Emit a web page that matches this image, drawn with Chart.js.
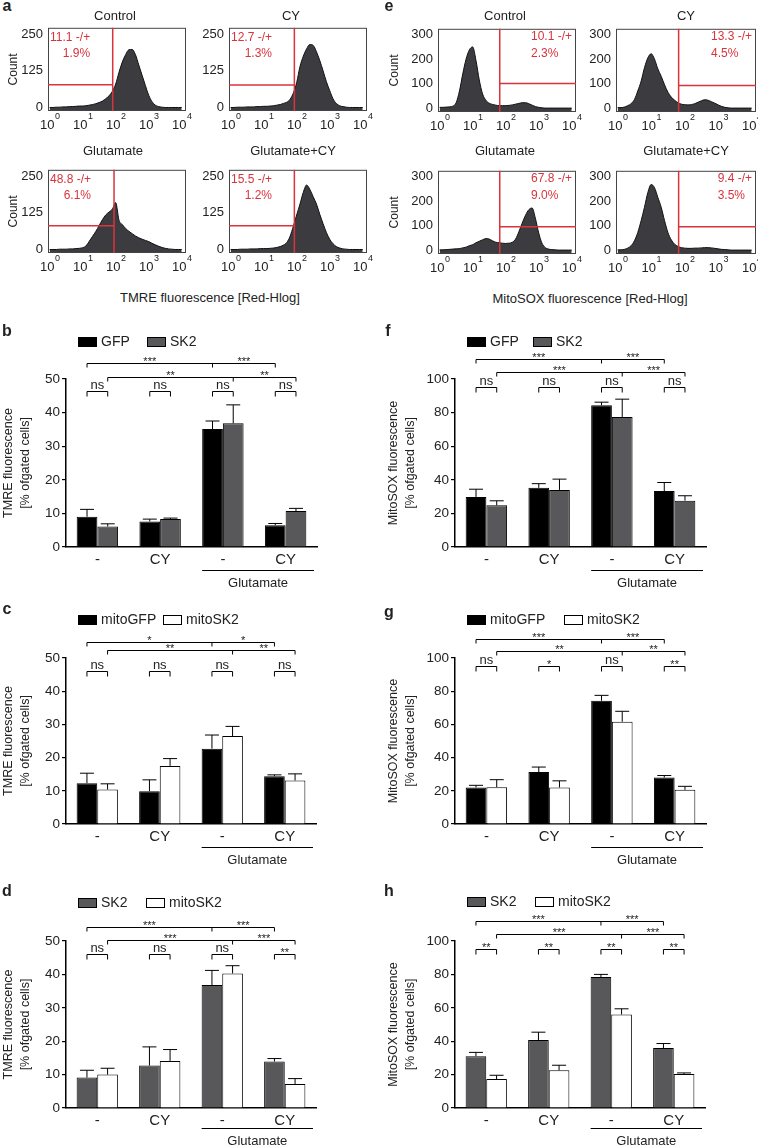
<!DOCTYPE html>
<html>
<head>
<meta charset="utf-8">
<script src="https://cdn.jsdelivr.net/npm/chart.js@4.4.1/dist/chart.umd.min.js"></script>
<style>
  body { margin:0; background:#fff; width:758px; height:1147px; position:relative; overflow:hidden;
         font-family:"Liberation Sans", Arial, sans-serif; color:#222; }
  canvas { position:absolute; }
  .t { position:absolute; transform:translate(-50%,-50%); white-space:nowrap; line-height:1; }
</style>
</head>
<body>
<script>
const FONT = '"Liberation Sans", Arial, sans-serif';
const RED = '#d9343c';

// ---------- flow cytometry histograms (log10 fluorescence bins) ----------
const logBins = [0,0.1,0.2,0.3,0.4,0.5,0.6,0.7,0.8,0.9,1.0,1.1,1.2,1.3,1.4,1.5,1.6,1.7,1.8,1.9,
                 2.0,2.1,2.2,2.3,2.4,2.5,2.6,2.7,2.8,2.9,3.0,3.1,3.2,3.3,3.4,3.5,3.6,3.7,3.8,3.9,4.0];
const xTickExps = [0, 1, 2, 3, 4];

// panel a: TMRE
const histA1 = [0,0,1,1,2,2,3,3,4,5, 5,6,8,10,13,17,22,30,40,55, 80,120,155,180,197,198,180,145,110,75, 42,20,8,3,1,0,0,0,0,0, 0];
const histA2 = [0,0,1,1,1,2,2,2,3,3, 4,4,5,6,8,10,14,18,28,50, 85,140,175,200,215,212,190,160,125,88, 58,30,14,6,3,1,0,0,0,0, 0];
const histA3 = [0,0,0,1,1,1,2,2,3,4, 6,12,28,45,62,82,102,118,128,138, 160,100,85,72,62,54,46,40,35,31, 27,21,16,11,7,4,2,1,0,0, 0];
const histA4 = [0,0,0,1,1,1,2,2,2,3, 3,3,4,5,7,10,15,24,45,80, 118,155,195,220,205,180,155,120,88,58, 35,20,10,5,2,1,0,0,0,0, 0];
const ticksA = [0, 125, 250];
const gateAX = [1.91, 1.93, 1.95, 1.93];
const gateAY = [78, 77, 81, 81];
const gateALabel = ['11.1 -/+', '12.7 -/+', '48.8 -/+', '15.5 -/+'];
const gateAPct = ['1.9%', '1.3%', '6.1%', '1.2%'];

// panel e: MitoSOX
const histE1 = [3,3,4,5,8,22,70,140,200,238, 250,195,115,58,32,20,15,12,10,10, 10,11,13,16,19,22,22,18,12,6, 3,1,0,0,0,0,0,0,0,0, 0];
const histE2 = [2,2,4,10,18,35,70,110,165,205, 222,200,160,130,95,65,45,32,22,16, 14,13,14,18,24,30,34,32,26,20, 13,7,3,1,0,0,0,0,0,0, 0];
const histE3 = [1,1,2,3,4,5,6,9,12,18, 22,30,36,42,47,45,38,32,30,28, 27,28,32,45,75,110,142,165,172,130, 70,28,10,4,2,1,0,0,0,0, 0];
const histE4 = [1,1,3,8,18,38,72,120,175,235, 268,255,215,175,120,72,42,24,15,10, 8,7,7,8,8,9,10,10,9,7, 5,3,2,1,0,0,0,0,0,0, 0];
const ticksE = [0, 100, 200, 300];
const gateEX = [1.82, 1.82, 1.82, 1.82];
const gateEY = [100, 92, 95, 95];
const gateELabel = ['10.1 -/+', '13.3 -/+', '67.8 -/+', '9.4 -/+'];
const gateEPct = ['2.3%', '4.5%', '9.0%', '3.5%'];

// ---------- bar charts ----------
const groupLabels = ['-', 'CY', '-', 'CY'];
const groupCaption = 'Glutamate';

// b: TMRE, GFP vs SK2
const gfpTmre = [9.0, 7.6, 35.1, 6.5];        const gfpTmreErr = [2.2, 0.7, 2.4, 0.5];
const sk2Tmre = [6.1, 8.3, 36.8, 10.7];       const sk2TmreErr = [0.8, 0.3, 5.5, 0.8];
// c: TMRE, mitoGFP vs mitoSK2
const mitoGfpTmre = [12.3, 9.9, 22.7, 14.4];  const mitoGfpTmreErr = [3.0, 3.4, 4.1, 0.4];
const mitoSk2Tmre = [10.4, 17.5, 26.5, 13.1]; const mitoSk2TmreErr = [1.7, 2.2, 2.9, 2.0];
// d: TMRE, SK2 vs mitoSK2
const sk2TmreD = [9.1, 12.7, 36.8, 13.9];     const sk2TmreDErr = [2.2, 5.6, 4.4, 0.9];
const mitoSk2TmreD = [10.0, 14.1, 40.3, 7.2]; const mitoSk2TmreDErr = [1.9, 3.4, 2.3, 1.6];
// f: MitoSOX, GFP vs SK2
const gfpMito = [29.8, 35.2, 84.4, 33.3];     const gfpMitoErr = [4.6, 2.5, 1.8, 5.1];
const sk2Mito = [24.8, 34.0, 77.4, 27.6];     const sk2MitoErr = [2.7, 6.4, 10.6, 2.9];
// g: MitoSOX, mitoGFP vs mitoSK2
const mitoGfpMito = [22.0, 31.3, 74.2, 28.0]; const mitoGfpMitoErr = [1.3, 3.0, 3.3, 1.2];
const mitoSk2Mito = [22.2, 22.0, 61.6, 20.6]; const mitoSk2MitoErr = [4.5, 4.0, 6.3, 2.1];
// h: MitoSOX, SK2 vs mitoSK2
const sk2MitoH = [31.0, 40.7, 78.4, 35.9];    const sk2MitoHErr = [2.3, 4.7, 1.6, 2.7];
const mitoSk2MitoH = [17.3, 22.6, 56.0, 20.4];const mitoSk2MitoHErr = [2.3, 3.0, 3.4, 0.6];

// significance: [top line], [second line], [within-group]
const sigB = [['***','***'], ['**','**'], ['ns','ns','ns','ns']];
const sigC = [['*','*'], ['**','**'], ['ns','ns','ns','ns']];
const sigD = [['***','***'], ['***','***'], ['ns','ns','ns','**']];
const sigF = [['***','***'], ['***','***'], ['ns','ns','ns','ns']];
const sigG = [['***','***'], ['**','**'], ['ns','*','ns','**']];
const sigH = [['***','***'], ['***','***'], ['**','**','**','**']];

const tmreTitle = ['TMRE fluorescence', '[% ofgated cells]'];
const mitoTitle = ['MitoSOX fluorescence', '[% ofgated cells]'];

const BLACK = '#000', GREY = '#58585a', WHITE = '#fff';

Chart.defaults.font.family = FONT;
Chart.defaults.color = '#222';

function txt(s, x, y, size, weight) {
  const d = document.createElement('div');
  d.className = 't';
  d.textContent = s;
  d.style.left = x + 'px';
  d.style.top = y + 'px';
  d.style.fontSize = size + 'px';
  if (weight) d.style.fontWeight = weight;
  document.body.appendChild(d);
}

function makeCanvas(L, T, R, B, ml, mt, mr, mb) {
  const c = document.createElement('canvas');
  const w = R - L + ml + mr, h = B - T + mt + mb;
  c.width = w; c.height = h;
  c.style.left = (L - ml) + 'px';
  c.style.top = (T - mt) + 'px';
  c.style.width = w + 'px';
  c.style.height = h + 'px';
  document.body.appendChild(c);
  return c;
}

// ---------- histogram builder ----------
function histDeco(g) {
  return {
    id: 'histDeco',
    afterDatasetsDraw(chart) {
      const { ctx, chartArea: a, scales: { x, y } } = chart;
      ctx.save();
      ctx.strokeStyle = '#444'; ctx.lineWidth = 1;
      ctx.strokeRect(a.left + 0.5, a.top + 0.5, a.right - a.left - 1, a.bottom - a.top - 1);

      const gx = x.getPixelForValue(g.gateX), gy = y.getPixelForValue(g.gateY);
      ctx.strokeStyle = RED; ctx.lineWidth = 1.5;
      ctx.beginPath();
      ctx.moveTo(gx, a.top); ctx.lineTo(gx, a.bottom);
      if (g.side === 'left') { ctx.moveTo(a.left, gy); ctx.lineTo(gx, gy); }
      else { ctx.moveTo(gx, gy); ctx.lineTo(a.right, gy); }
      ctx.stroke();

      ctx.fillStyle = RED; ctx.font = '12px ' + FONT; ctx.textBaseline = 'middle';
      const w1 = ctx.measureText(g.t1).width;
      if (g.side === 'left') {
        ctx.textAlign = 'left';  ctx.fillText(g.t1, a.left + 2, a.top + 10);
        ctx.textAlign = 'right'; ctx.fillText(g.t2, a.left + 2 + w1, a.top + 26);
      } else {
        ctx.textAlign = 'right'; ctx.fillText(g.t1, a.right - 4, a.top + 8);
        ctx.textAlign = 'left';  ctx.fillText(g.t2, a.right - 4 - w1, a.top + 25);
      }

      ctx.fillStyle = '#222'; ctx.textAlign = 'left';
      xTickExps.forEach(k => {
        const px = x.getPixelForValue(k);
        ctx.font = '13px ' + FONT; const wb = ctx.measureText('10').width;
        ctx.font = '9px ' + FONT;  const we = ctx.measureText(String(k)).width;
        const x0 = px - (wb + we) / 2;
        ctx.font = '13px ' + FONT; ctx.fillText('10', x0, a.bottom + 14);
        ctx.font = '9px ' + FONT;  ctx.fillText(String(k), x0 + wb + 0.5, a.bottom + 6);
      });
      ctx.restore();
    }
  };
}

function histChart(box, counts, yTicks, yMin, yMax, gate) {
  const c = makeCanvas(box.L, box.T, box.R, box.B, box.ml, 12, box.mr, 24);
  new Chart(c, {
    type: 'line',
    data: {
      datasets: [{
        data: logBins.map((v, i) => ({ x: v, y: counts[i] })),
        fill: 'start',
        backgroundColor: '#3c3c40',
        borderColor: '#111',
        borderWidth: 1,
        pointRadius: 0,
        cubicInterpolationMode: 'monotone'
      }]
    },
    options: {
      responsive: false,
      animation: false,
      events: [],
      layout: { padding: { left: 0, top: 12, right: box.mr, bottom: 24 } },
      plugins: { legend: { display: false }, tooltip: { enabled: false } },
      scales: {
        x: { type: 'linear', display: false, min: -0.05, max: 4.13 },
        y: {
          min: yMin, max: yMax,
          afterBuildTicks: s => { s.ticks = yTicks.map(v => ({ value: v })); },
          afterFit: s => { s.width = box.ml; },
          grid: { display: false, drawTicks: false },
          border: { display: false },
          ticks: { font: { size: 13 }, color: '#222', padding: 5 },
          title: { display: box.count, text: 'Count', font: { size: 12 }, color: '#222',
                   padding: { top: box.titlePad, bottom: 0 } }
        }
      }
    },
    plugins: [histDeco(gate)]
  });
}

const histBoxesA = [
  { L: 48,  T: 27,  R: 186, B: 111, ml: 48, mr: 14, count: true,  titlePad: 6 },
  { L: 229, T: 27,  R: 367, B: 111, ml: 40, mr: 14, count: false, titlePad: 0 },
  { L: 48,  T: 169, R: 186, B: 253, ml: 48, mr: 14, count: true,  titlePad: 6 },
  { L: 229, T: 169, R: 367, B: 253, ml: 40, mr: 14, count: false, titlePad: 0 }
];
const histBoxesE = [
  { L: 438, T: 28,  R: 576, B: 112, ml: 60, mr: 14, count: true,  titlePad: 9 },
  { L: 616, T: 28,  R: 756, B: 112, ml: 40, mr: 2,  count: false, titlePad: 0 },
  { L: 438, T: 170, R: 576, B: 254, ml: 60, mr: 14, count: true,  titlePad: 9 },
  { L: 616, T: 170, R: 756, B: 254, ml: 40, mr: 2,  count: false, titlePad: 0 }
];
[histA1, histA2, histA3, histA4].forEach((h, i) =>
  histChart(histBoxesA[i], h, ticksA, -12, 272,
    { gateX: gateAX[i], gateY: gateAY[i], side: 'left', t1: gateALabel[i], t2: gateAPct[i] }));
[histE1, histE2, histE3, histE4].forEach((h, i) =>
  histChart(histBoxesE[i], h, ticksE, -16, 324,
    { gateX: gateEX[i], gateY: gateEY[i], side: 'right', t1: gateELabel[i], t2: gateEPct[i] }));

// ---------- bar chart builder ----------
function barDeco(p) {
  return {
    id: 'barDeco',
    afterDatasetsDraw(chart) {
      const { ctx, chartArea: a, scales: { y } } = chart;
      const m0 = chart.getDatasetMeta(0).data, m1 = chart.getDatasetMeta(1).data;
      ctx.save();
      ctx.strokeStyle = '#000'; ctx.lineWidth = 1;

      // error bars (upper only)
      chart.data.datasets.forEach((ds, di) => {
        chart.getDatasetMeta(di).data.forEach((el, i) => {
          const top = y.getPixelForValue(ds.data[i] + p.errs[di][i]);
          ctx.beginPath();
          ctx.moveTo(el.x, el.y); ctx.lineTo(el.x, top);
          ctx.moveTo(el.x - 7, top); ctx.lineTo(el.x + 7, top);
          ctx.stroke();
        });
      });

      // long brackets
      ctx.fillStyle = '#222'; ctx.textAlign = 'center'; ctx.textBaseline = 'alphabetic';
      [m0, m1].forEach((m, k) => {
        const py = Math.round(y.getPixelForValue(p.levels[k])) + 0.5;
        const xs = [m[0].x, m[2].x, m[3].x];
        ctx.beginPath();
        ctx.moveTo(xs[0], py + 4); ctx.lineTo(xs[0], py); ctx.lineTo(xs[2], py); ctx.lineTo(xs[2], py + 4);
        ctx.moveTo(xs[1], py); ctx.lineTo(xs[1], py + 4);
        ctx.stroke();
        ctx.font = '11px ' + FONT;
        ctx.fillText(p.sig[k][0], (xs[0] + xs[1]) / 2, py + 1);
        ctx.fillText(p.sig[k][1], (xs[1] + xs[2]) / 2, py + 1);
      });

      // within-group brackets
      const pn = Math.round(y.getPixelForValue(p.levels[2])) + 0.5;
      m0.forEach((el, i) => {
        const x0 = el.x, x1 = m1[i].x;
        ctx.beginPath();
        ctx.moveTo(x0, pn + 5); ctx.lineTo(x0, pn); ctx.lineTo(x1, pn); ctx.lineTo(x1, pn + 5);
        ctx.stroke();
        const s = p.sig[2][i];
        ctx.font = (s === 'ns' ? '13px ' : '11px ') + FONT;
        ctx.fillText(s, (x0 + x1) / 2, s === 'ns' ? pn - 3 : pn + 1);
      });

      // legend
      ctx.font = '14px ' + FONT; ctx.textAlign = 'left'; ctx.textBaseline = 'middle';
      chart.data.datasets.forEach((ds, di) => {
        const lx = a.left + p.legendX[di], ly = a.top + p.legendDy;
        ctx.fillStyle = ds.backgroundColor;
        ctx.fillRect(lx, ly - 5, 19, 10);
        ctx.strokeRect(lx + 0.5, ly - 4.5, 18, 9);
        ctx.fillStyle = '#222';
        ctx.fillText(ds.label, lx + 23, ly);
      });

      // glutamate caption
      const capDy = p.capDy || 0;
      const gx0 = m0[2].x - m0[2].width / 2, gx1 = a.right - 3;
      const gy = a.bottom + 23.5 + capDy;
      ctx.beginPath(); ctx.moveTo(gx0, gy); ctx.lineTo(gx1, gy); ctx.stroke();
      ctx.font = '13px ' + FONT; ctx.textAlign = 'center';
      ctx.fillText(groupCaption, (gx0 + gx1) / 2, a.bottom + 36 + capDy);
      ctx.restore();
    }
  };
}

function barChart(p) {
  const mb = p.mb || 50, XH = 22;
  const c = makeCanvas(p.L, p.T, p.R, p.B, p.ml, 50, p.mr, mb);
  const ds = (label, data, color) => ({
    label, data, backgroundColor: color, borderColor: '#000', borderWidth: 1,
    borderSkipped: 'bottom', categoryPercentage: 0.66, barPercentage: 1.0
  });
  new Chart(c, {
    type: 'bar',
    data: {
      labels: groupLabels,
      datasets: [ds(p.names[0], p.data[0], p.colors[0]), ds(p.names[1], p.data[1], p.colors[1])]
    },
    options: {
      responsive: false,
      animation: false,
      events: [],
      layout: { padding: { left: 0, top: 50, right: p.mr, bottom: mb - XH } },
      plugins: { legend: { display: false }, tooltip: { enabled: false } },
      scales: {
        x: {
          grid: { display: false, drawTicks: false },
          border: { display: true, color: '#000', width: 1.5 },
          ticks: { font: { size: 15 }, color: '#222', padding: 4, maxRotation: 0 },
          afterFit: s => { s.height = XH; }
        },
        y: {
          min: 0, max: p.max,
          ticks: { stepSize: p.max / 5, font: { size: 13.5 }, color: '#222', padding: 2 },
          grid: { drawOnChartArea: false, drawTicks: true, tickLength: 4, color: '#000', lineWidth: 1.2 },
          border: { color: '#000', width: 1.5 },
          title: { display: true, text: p.title, font: { size: 12.5, lineHeight: 1.36 }, color: '#222',
                   padding: { top: p.titlePad, bottom: 0 } },
          afterFit: s => { s.width = p.ml; }
        }
      }
    },
    plugins: [barDeco(p)]
  });
}

barChart({ L: 66, T: 379, R: 317, B: 547, ml: 66, mr: 62, max: 50, title: tmreTitle, titlePad: 0,
  names: ['GFP', 'SK2'], colors: [BLACK, GREY], data: [gfpTmre, sk2Tmre], errs: [gfpTmreErr, sk2TmreErr],
  sig: sigB, levels: [54.8, 50.5, 46.3], legendX: [12, 81], legendDy: -37 });
barChart({ L: 66, T: 658, R: 316, B: 824, ml: 66, mr: 63, max: 50, title: tmreTitle, titlePad: 0,
  names: ['mitoGFP', 'mitoSK2'], colors: [BLACK, WHITE], data: [mitoGfpTmre, mitoSk2Tmre], errs: [mitoGfpTmreErr, mitoSk2TmreErr],
  sig: sigC, levels: [54.8, 52.3, 46.0], legendX: [12, 97], legendDy: -38 });
barChart({ L: 66, T: 941, R: 316, B: 1108, ml: 66, mr: 63, mb: 39, capDy: -3, max: 50, title: tmreTitle, titlePad: 0,
  names: ['SK2', 'mitoSK2'], colors: [GREY, WHITE], data: [sk2TmreD, mitoSk2TmreD], errs: [sk2TmreDErr, mitoSk2TmreDErr],
  sig: sigD, levels: [54.2, 50.4, 46.0], legendX: [12, 80], legendDy: -38 });
barChart({ L: 455, T: 379, R: 706, B: 547, ml: 76, mr: 52, max: 100, title: mitoTitle, titlePad: 6.5,
  names: ['GFP', 'SK2'], colors: [BLACK, GREY], data: [gfpMito, sk2Mito], errs: [gfpMitoErr, sk2MitoErr],
  sig: sigF, levels: [112, 104, 95.2], legendX: [12, 78], legendDy: -37 });
barChart({ L: 455, T: 658, R: 706, B: 824, ml: 76, mr: 52, max: 100, title: mitoTitle, titlePad: 6.5,
  names: ['mitoGFP', 'mitoSK2'], colors: [BLACK, WHITE], data: [mitoGfpMito, mitoSk2Mito], errs: [mitoGfpMitoErr, mitoSk2MitoErr],
  sig: sigG, levels: [111.4, 104, 95], legendX: [12, 109], legendDy: -38 });
barChart({ L: 455, T: 941, R: 705, B: 1108, ml: 76, mr: 53, mb: 39, capDy: -3, max: 100, title: mitoTitle, titlePad: 6.5,
  names: ['SK2', 'mitoSK2'], colors: [GREY, WHITE], data: [sk2MitoH, mitoSk2MitoH], errs: [sk2MitoHErr, mitoSk2MitoHErr],
  sig: sigH, levels: [112, 104.4, 95.4], legendX: [12, 80], legendDy: -39 });

// ---------- page texts ----------
txt('a', 7, 6, 16, 'bold'); txt('b', 7, 331, 16, 'bold'); txt('c', 7, 609, 16, 'bold'); txt('d', 7, 891, 16, 'bold');
txt('e', 389, 6, 16, 'bold'); txt('f', 388, 331, 16, 'bold'); txt('g', 389, 612, 16, 'bold'); txt('h', 389, 891, 16, 'bold');

txt('Control', 115, 15, 13); txt('CY', 291, 15, 13);
txt('Glutamate', 113, 150, 13); txt('Glutamate+CY', 293, 150, 13);
txt('TMRE fluorescence [Red-Hlog]', 210, 297, 13);

txt('Control', 505, 15, 13); txt('CY', 686, 15, 13);
txt('Glutamate', 505, 150, 13); txt('Glutamate+CY', 686, 150, 13);
txt('MitoSOX fluorescence [Red-Hlog]', 590, 298, 13);
</script>
</body>
</html>
